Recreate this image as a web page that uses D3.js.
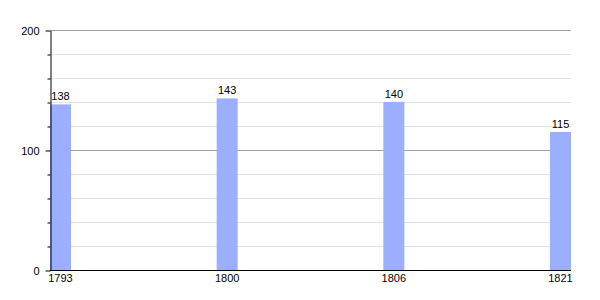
<!doctype html>
<html>
<head>
<meta charset="utf-8">
<style>
  body { margin: 0; background: #fff; }
  svg { font-family: "Liberation Sans", Arial, sans-serif; }
</style>
</head>
<body>
<svg id="chart" width="600" height="300"></svg>
<script src="https://d3js.org/d3.v7.min.js"></script>
<script>
// data
const years = ["1793", "1800", "1806", "1821"];
const values = [138, 143, 140, 115];
const majorTicks = [0, 100, 200];
const minorTicks = [20, 40, 60, 80, 120, 140, 160, 180];

const svg = d3.select("#chart");
const plotLeft = 50, plotRight = 571, plotTop = 30, plotBottom = 270;
const barW = 21;

const x = d3.scalePoint().domain(years).range([plotLeft, plotRight - barW]);
const y = d3.scaleLinear().domain([0, 200]).range([plotBottom, plotTop]);

// gridlines, light ones first
svg.append("g")
  .selectAll("line")
  .data(minorTicks)
  .join("line")
  .attr("x1", plotLeft).attr("x2", plotRight)
  .attr("y1", d => y(d) + 0.5).attr("y2", d => y(d) + 0.5)
  .attr("stroke", "#e2e2e2");

svg.append("g")
  .selectAll("line")
  .data(majorTicks.filter(d => d > 0))
  .join("line")
  .attr("x1", plotLeft).attr("x2", plotRight)
  .attr("y1", d => y(d) + 0.5).attr("y2", d => y(d) + 0.5)
  .attr("stroke", "#a0a0a0");

// bars
svg.append("g")
  .selectAll("rect")
  .data(values)
  .join("rect")
  .attr("x", (d, i) => x(years[i]))
  .attr("y", d => y(d))
  .attr("width", barW)
  .attr("height", d => plotBottom - y(d))
  .attr("fill", "#9cafff");

// value labels
svg.append("g")
  .selectAll("text")
  .data(values)
  .join("text")
  .attr("x", (d, i) => x(years[i]) + barW / 2)
  .attr("y", d => y(d) - 4)
  .attr("text-anchor", "middle")
  .attr("font-size", "11px")
  .attr("fill", "#000")
  .text(d => d);

// x axis
svg.append("line")
  .attr("x1", plotLeft).attr("x2", plotRight)
  .attr("y1", plotBottom + 0.5).attr("y2", plotBottom + 0.5)
  .attr("stroke", "#000");

svg.append("g")
  .selectAll("text")
  .data(years)
  .join("text")
  .attr("x", d => x(d) + barW / 2)
  .attr("y", plotBottom + 12)
  .attr("text-anchor", "middle")
  .attr("font-size", "11px")
  .text(d => d);

// y axis: minor ticks, then labelled major ticks
svg.append("g")
  .attr("transform", "translate(" + (plotLeft + 0.5) + ",0.5)")
  .call(d3.axisLeft(y).tickValues(minorTicks).tickSize(3).tickFormat(""))
  .call(g => g.select(".domain").remove());

svg.append("g")
  .attr("transform", "translate(" + (plotLeft + 0.5) + ",0.5)")
  .call(d3.axisLeft(y).tickValues(majorTicks).tickSize(5).tickSizeOuter(0).tickPadding(6))
  .call(g => g.selectAll("text").attr("font-size", "11px").attr("font-family", "Liberation Sans, Arial, sans-serif").attr("fill", "#000"))
  .call(g => g.selectAll("line, path").attr("stroke", "#000"));
</script>
</body>
</html>
